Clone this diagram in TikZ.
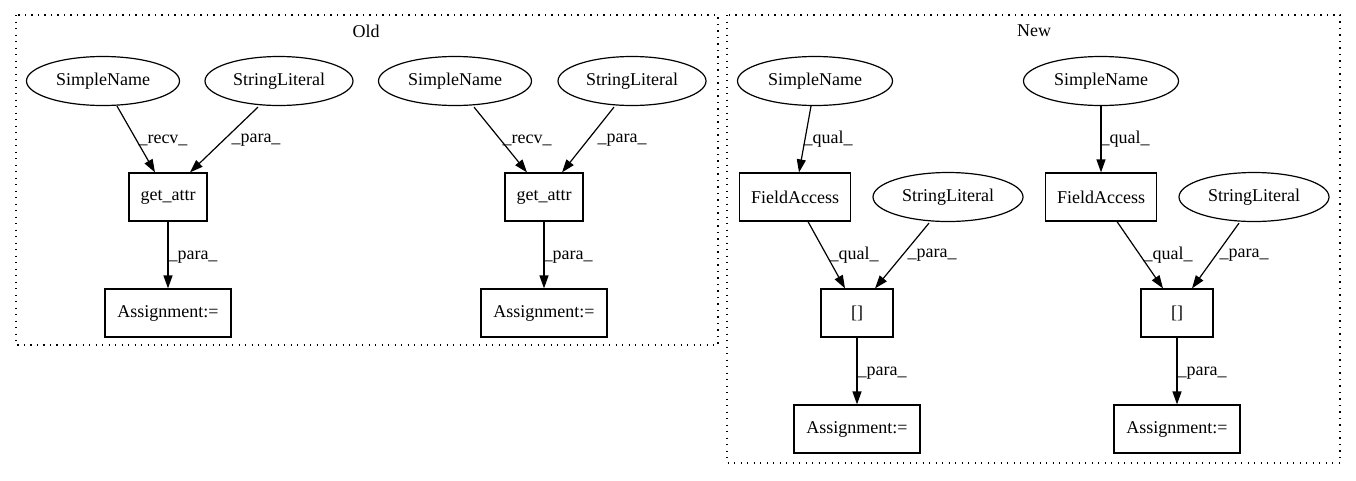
\documentclass[tikz,border=0pt]{standalone}
\usepackage{fontspec}
\setmainfont{Liberation Serif}
\usetikzlibrary{arrows.meta,shapes.geometric}
\begin{document}
\begin{tikzpicture}[x=1pt,y=-1pt,
  every node/.style={font=\fontsize{18}{22}\selectfont},
  ell/.style={draw,ellipse,line width=1.2pt,minimum height=49pt,inner sep=0pt},
  box/.style={draw,rectangle,line width=1.2pt,minimum height=48pt,inner sep=0pt},
  edge/.style={draw,line width=1.2pt,-{Triangle[length=13pt,width=9pt]}},
  lbl/.style={inner sep=0pt},
  cluster/.style={draw,line width=1.2pt,dash pattern=on 1.3pt off 5.2pt}]
\useasboundingbox (0,0) rectangle (1356,480);
% clusters
\draw[cluster] (16,15) rectangle (718,345);
\node (tOld) at (366,31) {Old};
\draw[cluster] (727,15) rectangle (1340,463);
\node (tNew) at (1034,31) {New};
% Old left
\node[ell,minimum width=153pt] (sn1) at (103,81) {SimpleName};
\node[ell,minimum width=148pt] (sl1) at (279,81) {StringLiteral};
\node[box,minimum width=78pt] (ga1) at (168,197) {get\_attr};
\node[box,minimum width=126pt] (as1) at (168,313) {Assignment:=};
\draw[edge] ([xshift=14pt]sn1.south) -- ([xshift=-13pt]ga1.north);
\draw[edge] ([xshift=-21pt,yshift=-1pt]sl1.south) -- ([xshift=22pt]ga1.north);
\draw[edge] (ga1.south) -- (as1.north);
\node[lbl] (l1) at (163,140) {\_recv\_};
\node[lbl] (l2) at (256,140) {\_para\_};
\node[lbl] (l3) at (193,257) {\_para\_};
% Old right
\node[ell,minimum width=153pt] (sn2) at (455,81) {SimpleName};
\node[ell,minimum width=148pt] (sl2) at (632,81) {StringLiteral};
\node[box,minimum width=78pt] (ga2) at (544,197) {get\_attr};
\node[box,minimum width=126pt] (as2) at (544,313) {Assignment:=};
\draw[edge] ([xshift=19pt,yshift=-1pt]sn2.south) -- ([xshift=-17pt]ga2.north);
\draw[edge] ([xshift=-18pt,yshift=-1pt]sl2.south) -- ([xshift=18pt]ga2.north);
\draw[edge] (ga2.south) -- (as2.north);
\node[lbl] (l4) at (527,140) {\_recv\_};
\node[lbl] (l5) at (622,140) {\_para\_};
\node[lbl] (l6) at (568,257) {\_para\_};
% New left
\node[ell,minimum width=155pt] (sn3) at (815,81) {SimpleName};
\node[box,minimum width=111pt] (fa3) at (795,197) {FieldAccess};
\node[ell,minimum width=150pt] (sl3) at (948,197) {StringLiteral};
\node[box,minimum width=72pt] (br3) at (857,313) {[]};
\node[box,minimum width=126pt] (as3) at (857,429) {Assignment:=};
\draw[edge] ([xshift=-4pt]sn3.south) -- ([xshift=4pt]fa3.north);
\draw[edge] ([xshift=13pt]fa3.south) -- ([xshift=-12pt]br3.north);
\draw[edge] ([xshift=-19pt,yshift=-1pt]sl3.south) -- ([xshift=18pt]br3.north);
\draw[edge] (br3.south) -- (as3.north);
\node[lbl] (l7) at (828,139) {\_qual\_};
\node[lbl] (l8) at (854,255) {\_qual\_};
\node[lbl] (l9) at (932,255) {\_para\_};
\node[lbl] (l10) at (882,373) {\_para\_};
% New right
\node[ell,minimum width=155pt] (sn4) at (1101,81) {SimpleName};
\node[box,minimum width=111pt] (fa4) at (1101,197) {FieldAccess};
\node[ell,minimum width=150pt] (sl4) at (1254,197) {StringLiteral};
\node[box,minimum width=72pt] (br4) at (1177,313) {[]};
\node[box,minimum width=126pt] (as4) at (1177,429) {Assignment:=};
\draw[edge] (sn4.south) -- (fa4.north);
\draw[edge] ([xshift=16pt]fa4.south) -- ([xshift=-14pt]br4.north);
\draw[edge] ([xshift=-15pt,yshift=-1pt]sl4.south) -- ([xshift=15pt]br4.north);
\draw[edge] (br4.south) -- (as4.north);
\node[lbl] (l11) at (1125,139) {\_qual\_};
\node[lbl] (l12) at (1168,255) {\_qual\_};
\node[lbl] (l13) at (1244,255) {\_para\_};
\node[lbl] (l14) at (1202,373) {\_para\_};
\end{tikzpicture}
\end{document}
